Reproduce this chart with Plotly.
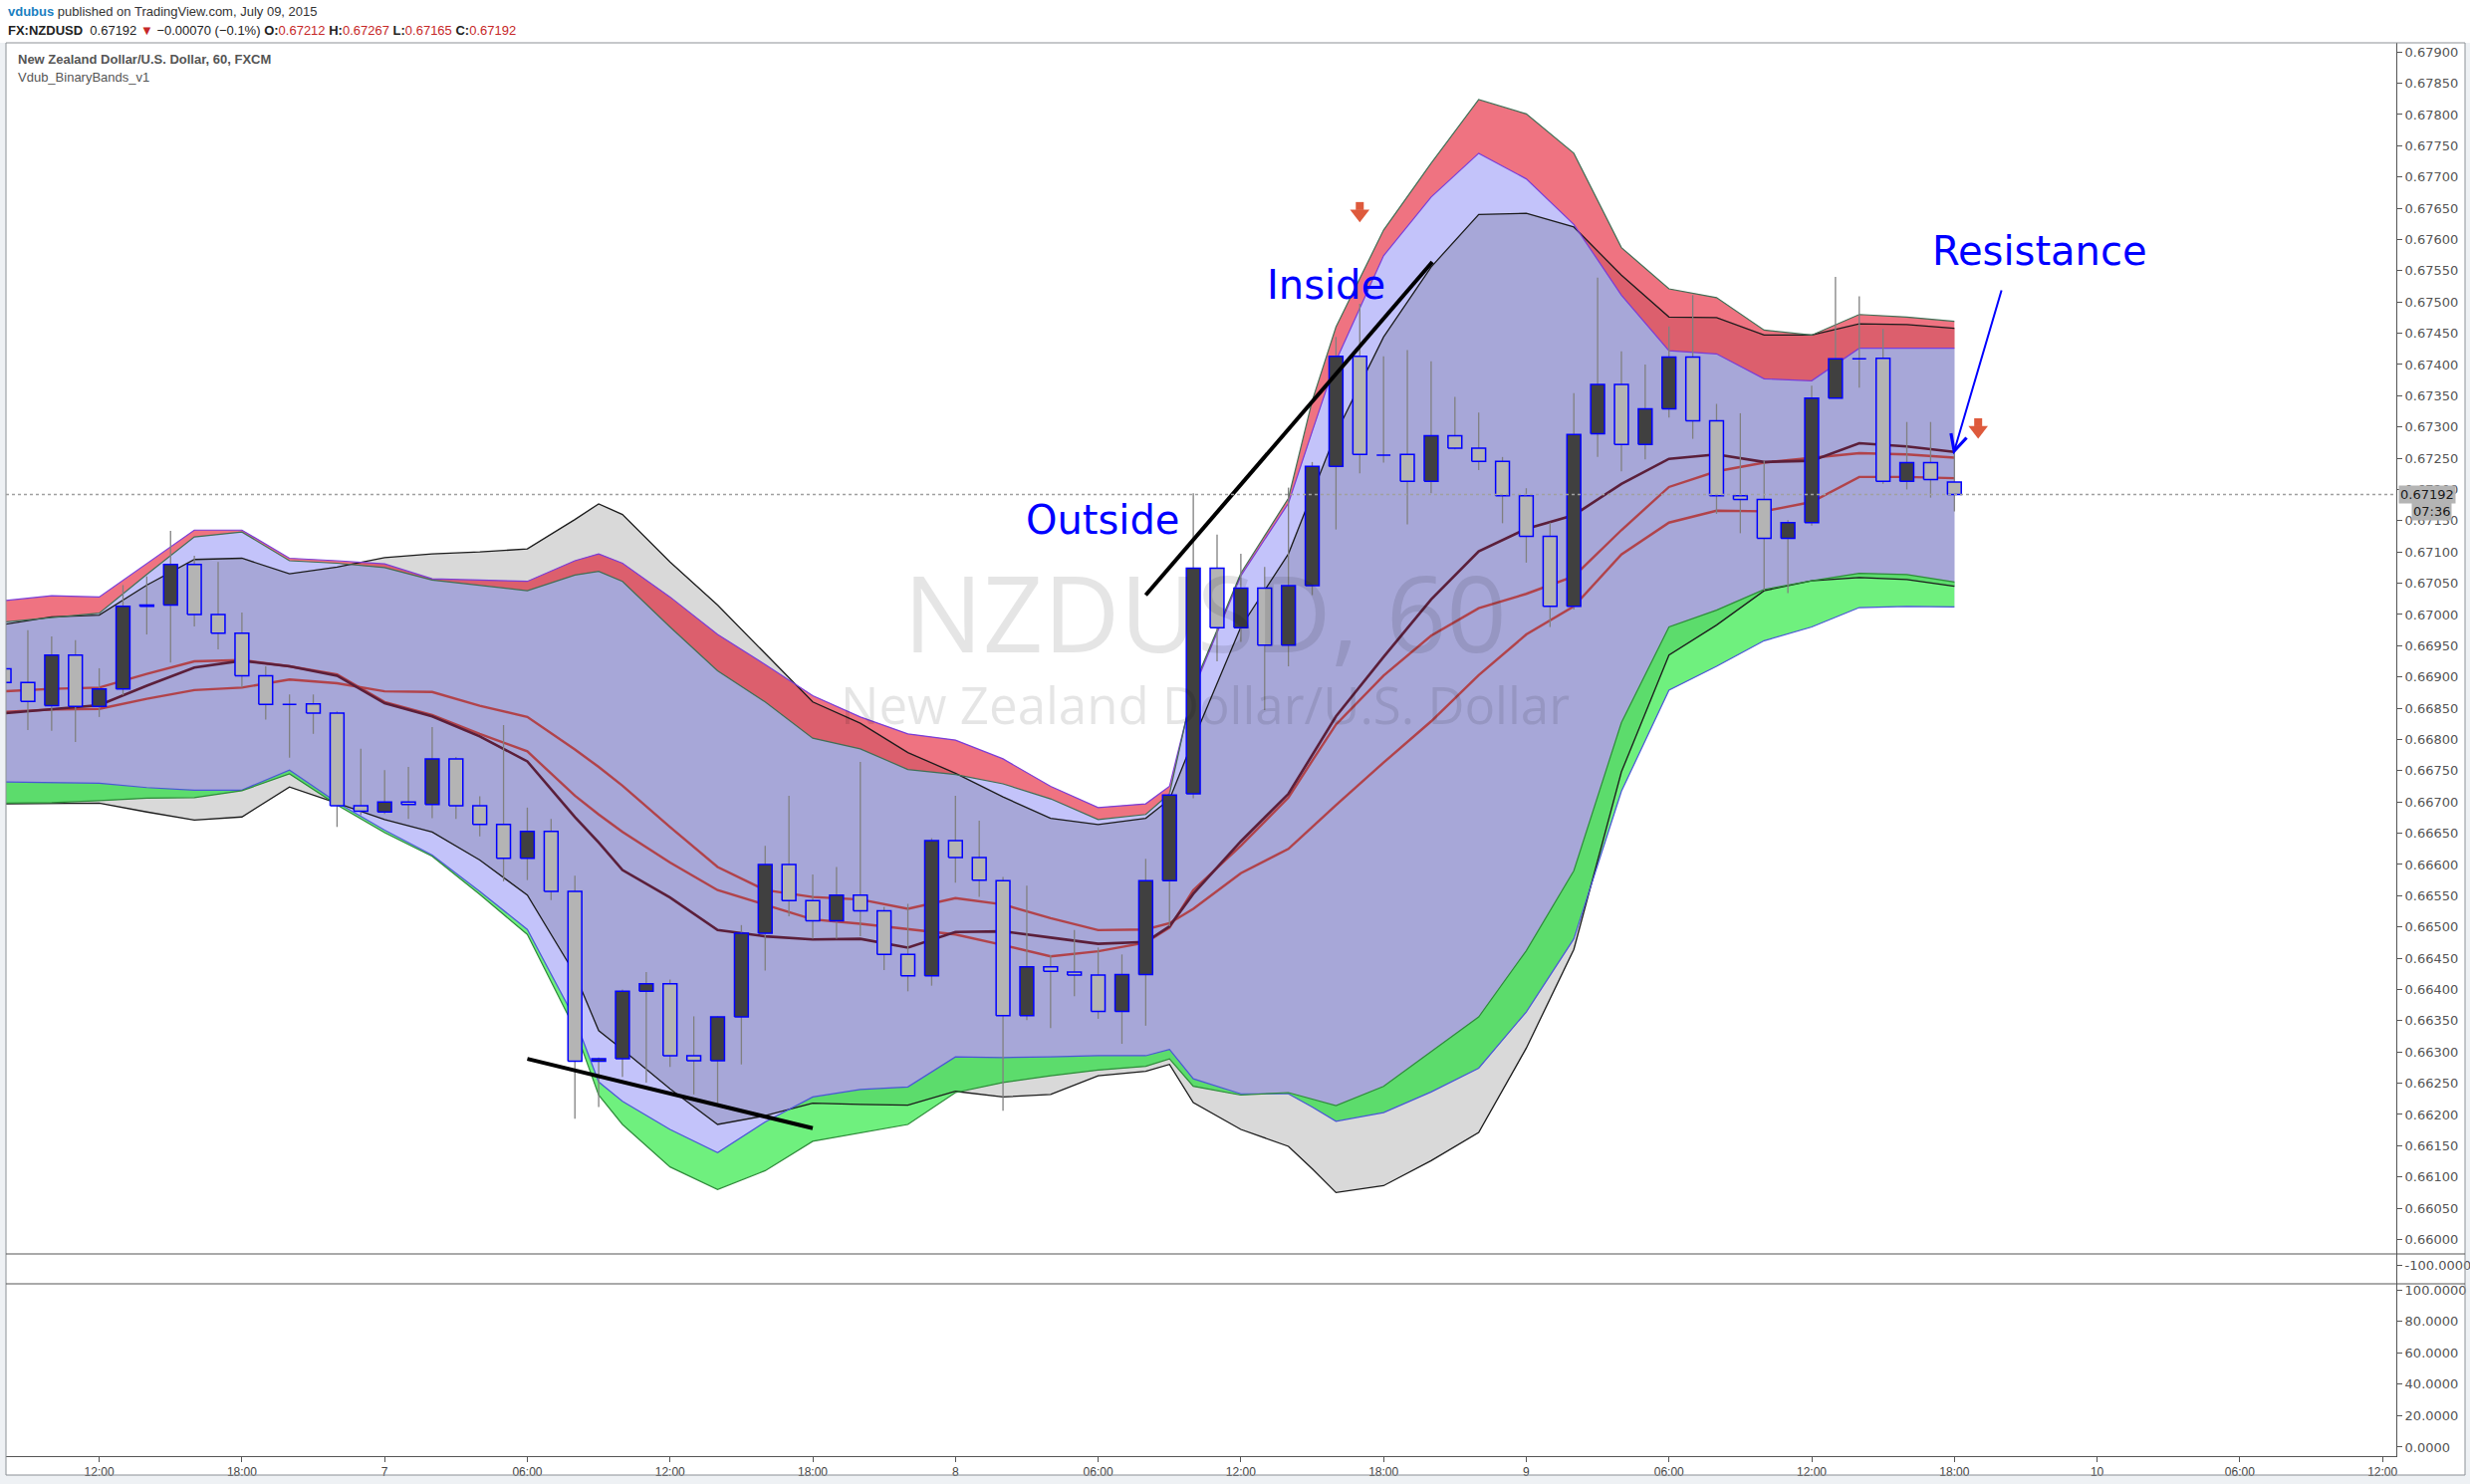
import numpy as np
import plotly.graph_objects as go

# ---------------- data (t = hours since 6 July 00:00, 60-min bars) ----------------
T_CANDLE = list(range(8, 91))
OPEN = [0.66913, 0.66891, 0.66854, 0.66935, 0.66853, 0.66881, 0.67013, 0.67015, 0.67080, 0.67000,
        0.66970, 0.66902, 0.66857, 0.66857, 0.66842, 0.66694, 0.66684, 0.66700, 0.66696, 0.66769,
        0.66694, 0.66664, 0.66610, 0.66653, 0.66557, 0.66285, 0.66289, 0.66397, 0.66409, 0.66294,
        0.66286, 0.66356, 0.66490, 0.66600, 0.66542, 0.66510, 0.66551, 0.66526, 0.66456, 0.66422,
        0.66638, 0.66611, 0.66574, 0.66358, 0.66436, 0.66428, 0.66423, 0.66365, 0.66424, 0.66574,
        0.66713, 0.67074, 0.66979, 0.67042, 0.66951, 0.67046, 0.67237, 0.67413, 0.67256, 0.67256,
        0.67213, 0.67286, 0.67266, 0.67245, 0.67190, 0.67125, 0.67013, 0.67289, 0.67368, 0.67272,
        0.67329, 0.67412, 0.67310, 0.67190, 0.67184, 0.67122, 0.67147, 0.67346, 0.67409, 0.67410,
        0.67213, 0.67243, 0.67212]
HIGH = [0.66930, 0.66975, 0.66965, 0.66959, 0.66914, 0.67047, 0.67061, 0.67134, 0.67094, 0.67084,
        0.67003, 0.66917, 0.66872, 0.66872, 0.66845, 0.66785, 0.66751, 0.66756, 0.66820, 0.66772,
        0.66709, 0.66823, 0.66691, 0.66673, 0.66582, 0.66291, 0.66400, 0.66428, 0.66416, 0.66357,
        0.66357, 0.66503, 0.66630, 0.66710, 0.66584, 0.66596, 0.66764, 0.66532, 0.66537, 0.66642,
        0.66710, 0.66670, 0.66580, 0.66566, 0.66455, 0.66495, 0.66467, 0.66456, 0.66609, 0.66716,
        0.67194, 0.67128, 0.67097, 0.67076, 0.67203, 0.67244, 0.67444, 0.67497, 0.67413, 0.67423,
        0.67405, 0.67348, 0.67323, 0.67252, 0.67202, 0.67147, 0.67354, 0.67539, 0.67421, 0.67400,
        0.67461, 0.67511, 0.67337, 0.67322, 0.67246, 0.67151, 0.67366, 0.67540, 0.67509, 0.67457,
        0.67308, 0.67308, 0.67267]
LOW = [0.66874, 0.66815, 0.66814, 0.66796, 0.66836, 0.66871, 0.66968, 0.66923, 0.66981, 0.66944,
       0.66883, 0.66832, 0.66771, 0.66809, 0.66660, 0.66679, 0.66681, 0.66673, 0.66674, 0.66673,
       0.66645, 0.66573, 0.66575, 0.66543, 0.66193, 0.66212, 0.66260, 0.66251, 0.66276, 0.66232,
       0.66218, 0.66280, 0.66430, 0.66517, 0.66481, 0.66481, 0.66485, 0.66431, 0.66397, 0.66406,
       0.66571, 0.66548, 0.66206, 0.66351, 0.66338, 0.66389, 0.66353, 0.66313, 0.66342, 0.66501,
       0.66706, 0.66925, 0.66956, 0.66847, 0.66917, 0.67031, 0.67136, 0.67226, 0.67243, 0.67144,
       0.67194, 0.67264, 0.67231, 0.67146, 0.67083, 0.66980, 0.67008, 0.67252, 0.67229, 0.67248,
       0.67315, 0.67281, 0.67161, 0.67130, 0.67038, 0.67034, 0.67142, 0.67346, 0.67363, 0.67209,
       0.67200, 0.67187, 0.67165]
CLOSE = [0.66891, 0.66861, 0.66935, 0.66853, 0.66881, 0.67013, 0.67015, 0.67080, 0.67000, 0.66970,
         0.66902, 0.66856, 0.66856, 0.66842, 0.66694, 0.66685, 0.66700, 0.66696, 0.66769, 0.66694,
         0.66664, 0.66610, 0.66653, 0.66557, 0.66285, 0.66289, 0.66397, 0.66409, 0.66294, 0.66286,
         0.66356, 0.66490, 0.66600, 0.66542, 0.66510, 0.66551, 0.66526, 0.66456, 0.66422, 0.66638,
         0.66611, 0.66575, 0.66358, 0.66436, 0.66429, 0.66423, 0.66365, 0.66424, 0.66574, 0.66711,
         0.67074, 0.66979, 0.67042, 0.66951, 0.67046, 0.67237, 0.67413, 0.67256, 0.67255, 0.67213,
         0.67286, 0.67266, 0.67245, 0.67190, 0.67125, 0.67013, 0.67288, 0.67368, 0.67272, 0.67329,
         0.67412, 0.67310, 0.67190, 0.67184, 0.67122, 0.67147, 0.67346, 0.67409, 0.67410, 0.67213,
         0.67243, 0.67216, 0.67192]

T_BAND = [8, 10, 12, 14, 16, 18, 20, 22, 24, 26, 28, 30, 32, 33, 34, 36, 38, 40, 42, 44, 46, 48, 50,
          52, 54, 56, 57, 58, 60, 62, 63, 64, 66, 68, 70, 72, 74, 76, 78, 80, 82, 84, 86, 88, 90]
BB_UPPER = [0.66984, 0.66996, 0.66999, 0.67047, 0.67088, 0.67090, 0.67065, 0.67076, 0.67091, 0.67097,
            0.67100, 0.67105, 0.67152, 0.67177, 0.67160, 0.67084, 0.67015, 0.66937, 0.66860, 0.66826,
            0.66779, 0.66746, 0.66708, 0.66674, 0.66664, 0.66674, 0.66704, 0.66799, 0.66980, 0.67097,
            0.67194, 0.67290, 0.67444, 0.67556, 0.67640, 0.67642, 0.67620, 0.67543, 0.67476, 0.67475,
            0.67447, 0.67447, 0.67465, 0.67464, 0.67458]
BAND_UP_A = [0.67022, 0.67030, 0.67028, 0.67081, 0.67135, 0.67135, 0.67090, 0.67086, 0.67081, 0.67057,
             0.67055, 0.67053, 0.67086, 0.67097, 0.67082, 0.67028, 0.66968, 0.66920, 0.66870, 0.66836,
             0.66809, 0.66799, 0.66769, 0.66725, 0.66691, 0.66697, 0.66725, 0.66879, 0.67062, 0.67178,
             0.67293, 0.67406, 0.67574, 0.67668, 0.67738, 0.67697, 0.67624, 0.67511, 0.67422, 0.67417,
             0.67377, 0.67374, 0.67426, 0.67426, 0.67426]
BAND_UP_B = [0.66988, 0.66995, 0.67002, 0.67064, 0.67124, 0.67132, 0.67086, 0.67082, 0.67075, 0.67055,
             0.67047, 0.67038, 0.67063, 0.67069, 0.67053, 0.66980, 0.66910, 0.66860, 0.66802, 0.66785,
             0.66752, 0.66744, 0.66729, 0.66705, 0.66672, 0.66680, 0.66713, 0.66884, 0.67066, 0.67186,
             0.67342, 0.67460, 0.67615, 0.67722, 0.67824, 0.67801, 0.67738, 0.67587, 0.67521, 0.67507,
             0.67455, 0.67447, 0.67480, 0.67476, 0.67469]
BB_LOWER = [0.66697, 0.66698, 0.66698, 0.66684, 0.66671, 0.66676, 0.66724, 0.66698, 0.66672, 0.66652,
            0.66607, 0.66551, 0.66425, 0.66334, 0.66304, 0.66241, 0.66184, 0.66198, 0.66218, 0.66216,
            0.66215, 0.66237, 0.66228, 0.66232, 0.66262, 0.66269, 0.66280, 0.66219, 0.66176, 0.66149,
            0.66113, 0.66075, 0.66086, 0.66126, 0.66171, 0.66306, 0.66464, 0.66748, 0.66935, 0.66983,
            0.67038, 0.67054, 0.67059, 0.67056, 0.67045]
BAND_LO_A = [0.66732, 0.66731, 0.66730, 0.66723, 0.66719, 0.66719, 0.66751, 0.66699, 0.66655, 0.66615,
             0.66557, 0.66496, 0.66353, 0.66252, 0.66221, 0.66176, 0.66139, 0.66188, 0.66228, 0.66240,
             0.66244, 0.66292, 0.66291, 0.66292, 0.66294, 0.66294, 0.66304, 0.66257, 0.66233, 0.66233,
             0.66212, 0.66189, 0.66203, 0.66236, 0.66274, 0.66364, 0.66481, 0.66717, 0.66879, 0.66917,
             0.66958, 0.66980, 0.67011, 0.67013, 0.67012]
BAND_LO_B = [0.66698, 0.66699, 0.66702, 0.66706, 0.66707, 0.66718, 0.66745, 0.66695, 0.66651, 0.66613,
             0.66552, 0.66488, 0.66337, 0.66231, 0.66184, 0.66116, 0.66080, 0.66110, 0.66157, 0.66171,
             0.66184, 0.66235, 0.66251, 0.66262, 0.66271, 0.66277, 0.66289, 0.66245, 0.66231, 0.66235,
             0.66224, 0.66214, 0.66245, 0.66301, 0.66356, 0.66462, 0.66590, 0.66827, 0.66980, 0.67007,
             0.67040, 0.67054, 0.67066, 0.67064, 0.67052]
MA_DARK = [0.66842, 0.66848, 0.66855, 0.66886, 0.66915, 0.66926, 0.66917, 0.66902, 0.66858, 0.66837,
           0.66805, 0.66765, 0.66676, 0.66635, 0.66591, 0.66547, 0.66495, 0.66485, 0.66480, 0.66481,
           0.66467, 0.66492, 0.66493, 0.66483, 0.66473, 0.66476, 0.66501, 0.66553, 0.66637, 0.66713,
           0.66774, 0.66837, 0.66932, 0.67024, 0.67101, 0.67137, 0.67159, 0.67209, 0.67249, 0.67256,
           0.67244, 0.67246, 0.67274, 0.67269, 0.67260]
MA_FAST = [0.66877, 0.66881, 0.66883, 0.66905, 0.66925, 0.66927, 0.66917, 0.66904, 0.66860, 0.66839,
           0.66809, 0.66781, 0.66710, 0.66680, 0.66652, 0.66603, 0.66559, 0.66536, 0.66512, 0.66505,
           0.66496, 0.66488, 0.66471, 0.66453, 0.66461, 0.66475, 0.66499, 0.66559, 0.66630, 0.66707,
           0.66766, 0.66824, 0.66902, 0.66966, 0.67010, 0.67033, 0.67061, 0.67135, 0.67204, 0.67229,
           0.67243, 0.67251, 0.67258, 0.67256, 0.67251]
MA_SLOW = [0.66844, 0.66848, 0.66849, 0.66865, 0.66879, 0.66883, 0.66896, 0.66890, 0.66877, 0.66876,
           0.66854, 0.66836, 0.66784, 0.66756, 0.66726, 0.66660, 0.66596, 0.66559, 0.66548, 0.66544,
           0.66529, 0.66546, 0.66536, 0.66514, 0.66495, 0.66496, 0.66506, 0.66529, 0.66586, 0.66625,
           0.66660, 0.66695, 0.66763, 0.66829, 0.66903, 0.66968, 0.67013, 0.67096, 0.67147, 0.67166,
           0.67165, 0.67180, 0.67220, 0.67220, 0.67218]

TIME_TICKS = [12, 18, 24, 30, 36, 42, 48, 54, 60, 66, 72, 78, 84, 90, 96, 102, 108]
TIME_LABELS = ["12:00", "18:00", "7", "06:00", "12:00", "18:00", "8", "06:00", "12:00", "18:00",
               "9", "06:00", "12:00", "18:00", "10", "06:00", "12:00"]
PRICE_LABELS = ["0.66000", "0.66050", "0.66100", "0.66150", "0.66200", "0.66250", "0.66300", "0.66350",
                "0.66400", "0.66450", "0.66500", "0.66550", "0.66600", "0.66650", "0.66700", "0.66750",
                "0.66800", "0.66850", "0.66900", "0.66950", "0.67000", "0.67050", "0.67100", "0.67150",
                "0.67200", "0.67250", "0.67300", "0.67350", "0.67400", "0.67450", "0.67500", "0.67550",
                "0.67600", "0.67650", "0.67700", "0.67750", "0.67800", "0.67850", "0.67900"]
OSC_LABELS = ["0.0000", "20.0000", "40.0000", "60.0000", "80.0000", "100.0000"]
OSC_TICKS = [0, 20, 40, 60, 80, 100]

LAST_PRICE = 0.67192
SIGNAL_T = [65, 91]
SIGNAL_P = [0.67644, 0.67298]
TREND1_T = [56.0, 68.05]
TREND1_P = [0.67031, 0.67564]
TREND2_T = [30.0, 42.0]
TREND2_P = [0.66289, 0.66178]
NOTES = [("Outside", 54.19, 0.67152), ("Inside", 63.6, 0.67527), ("Resistance", 93.59, 0.67582)]
ARROW_FROM = (92.0, 0.67521)
ARROW_TO = (89.95, 0.67256)

# ---------------- geometry helpers ----------------
W, H = 2480, 1490
PL, PR, PT, PB = 6, 2406, 43, 1462          # plot area in pixels
YMIN, YMAX = 0.659768, 0.679147
XMIN, XMAX = 8.08, 108.58
BODY_W = 0.58


def px_to_paper_y(py):
    return (PB - py) / (PB - PT)


def px_to_paper_x(px):
    return (px - PL) / (PR - PL)


def cross_grid(t, arrays):
    t = np.asarray(t, float)
    arrs = [np.asarray(a, float) for a in arrays]
    extra = []
    for i in range(len(t) - 1):
        for a in range(len(arrs)):
            for b in range(a + 1, len(arrs)):
                d0 = arrs[a][i] - arrs[b][i]
                d1 = arrs[a][i + 1] - arrs[b][i + 1]
                if d0 * d1 < 0:
                    s = d0 / (d0 - d1)
                    extra.append(t[i] + s * (t[i + 1] - t[i]))
    g = np.unique(np.concatenate([t, np.array(extra)]))
    return g, [np.interp(g, t, a) for a in arrs]


g, (bbu, ua, ub, bbl, la, lb) = cross_grid(T_BAND, [BB_UPPER, BAND_UP_A, BAND_UP_B, BB_LOWER, BAND_LO_A, BAND_LO_B])

fig = go.Figure()


def poly(top, bot, color):
    fig.add_trace(go.Scatter(x=np.concatenate([g, g[::-1]]), y=np.concatenate([top, bot[::-1]]),
                             fill="toself", fillcolor=color, line=dict(width=0), mode="lines",
                             hoverinfo="skip", showlegend=False))


red_top, red_bot = np.maximum(ua, ub), np.minimum(ua, ub)
grn_top, grn_bot = np.maximum(la, lb), np.minimum(la, lb)

poly(bbu, bbl, "#d9d9d9")                                    # BB fill
poly(ua, la, "#c3c3fa")                                      # inner channel
pt = np.minimum(ua, bbu); pb = np.maximum(la, bbl); poly(np.maximum(pt, pb), pb, "#a7a7d8")
poly(red_top, red_bot, "#ef7381")
dt = np.minimum(red_top, bbu); db = np.maximum(red_bot, bbl); poly(np.maximum(dt, db), db, "#dc5f6d")
poly(grn_top, grn_bot, "#6ff07e")
gt = np.minimum(grn_top, bbu); gb = np.maximum(grn_bot, bbl); poly(np.maximum(gt, gb), gb, "#5cdc6c")


def line(y, color, width, opacity=1.0):
    fig.add_trace(go.Scatter(x=T_BAND, y=y, mode="lines", line=dict(color=color, width=width),
                             opacity=opacity, hoverinfo="skip", showlegend=False))


line(BB_UPPER, "#1b1b1b", 1.3)
line(BB_LOWER, "#1b1b1b", 1.3)
line(BAND_UP_A, "#7a3cd8", 1.2)
line(BAND_UP_B, "#3f6f55", 1.2)
line(BAND_LO_A, "#4a55d8", 1.2)
line(BAND_LO_B, "#2e8b3a", 1.2)
line(MA_SLOW, "#b3393b", 2.4, 0.9)
line(MA_FAST, "#b3393b", 2.4, 0.9)
line(MA_DARK, "#5b1f3a", 2.6)

# wicks
wx, wy = [], []
for t, h, l in zip(T_CANDLE, HIGH, LOW):
    wx += [t, t, None]
    wy += [l, h, None]
fig.add_trace(go.Scatter(x=wx, y=wy, mode="lines", line=dict(color="#808080", width=1.3),
                         hoverinfo="skip", showlegend=False))


# bodies (drawn as scatter polygons so they stay above the band fills)
def bodies(up, fillcolor):
    xs, ys = [], []
    hw = BODY_W / 2
    for t, o, c in zip(T_CANDLE, OPEN, CLOSE):
        if (c >= o) != up:
            continue
        lo, hi = min(o, c), max(o, c)
        xs += [t - hw, t + hw, t + hw, t - hw, t - hw, None]
        ys += [lo, lo, hi, hi, lo, None]
    fig.add_trace(go.Scatter(x=xs, y=ys, mode="lines", fill="toself", fillcolor=fillcolor,
                             line=dict(color="#0000ff", width=1.5), hoverinfo="skip", showlegend=False))


bodies(True, "#404040")
bodies(False, "#b4b4b4")

# trend lines drawn by the author
for tx, ty in [(TREND1_T, TREND1_P), (TREND2_T, TREND2_P)]:
    fig.add_trace(go.Scatter(x=tx, y=ty, mode="lines", line=dict(color="#000000", width=4),
                             hoverinfo="skip", showlegend=False))

# signal arrows
unit = (YMAX - YMIN) / (1259 - PT)
fig.add_trace(go.Scatter(x=SIGNAL_T, y=[p - 2 * unit for p in SIGNAL_P], mode="markers",
                         marker=dict(symbol="triangle-down", size=17, color="#de5a3c"),
                         hoverinfo="skip", showlegend=False))
fig.add_trace(go.Scatter(x=SIGNAL_T, y=[p + 6 * unit for p in SIGNAL_P], mode="markers",
                         marker=dict(symbol="square", size=8, color="#de5a3c"),
                         hoverinfo="skip", showlegend=False))

# empty indicator panes (so that their axes are drawn)
fig.add_trace(go.Scatter(x=[], y=[], xaxis="x", yaxis="y2", mode="lines", showlegend=False, hoverinfo="skip"))
fig.add_trace(go.Scatter(x=[], y=[], xaxis="x", yaxis="y3", mode="lines", showlegend=False, hoverinfo="skip"))

main_bot = px_to_paper_y(1259)
mid_bot = px_to_paper_y(1289)
right_edge = px_to_paper_x(2475)

tickfont = dict(family="DejaVu Sans, Verdana, sans-serif", size=13, color="#555555")
common_y = dict(side="right", anchor="x", ticks="outside", ticklen=5, tickcolor="#555", showline=True,
                linecolor="#555", showgrid=False, zeroline=False, tickfont=tickfont, automargin=False)
fig.update_layout(
    width=W, height=H,
    margin=dict(l=PL, r=W - PR, t=PT, b=H - PB, pad=0, autoexpand=False),
    paper_bgcolor="#eef1f4", plot_bgcolor="rgba(0,0,0,0)",
    showlegend=False,
    xaxis=dict(range=[XMIN, XMAX], tickvals=TIME_TICKS, ticktext=TIME_LABELS, anchor="y3",
               ticks="outside", ticklen=5, tickcolor="#555", showline=True, linecolor="#555",
               showgrid=False, zeroline=False, automargin=False,
               tickfont=dict(family="Liberation Sans Narrow, Arial Narrow, Liberation Sans, sans-serif",
                             size=12, color="#444")),
    yaxis=dict(domain=[main_bot, 1.0], range=[YMIN, YMAX],
               tickvals=[float(s) for s in PRICE_LABELS], ticktext=PRICE_LABELS, **common_y),
    yaxis2=dict(domain=[mid_bot, main_bot], range=[-119, -89],
                tickvals=[-100], ticktext=["-100.0000"], **common_y),
    yaxis3=dict(domain=[0, mid_bot], range=[-5.7, 103.8],
                tickvals=OSC_TICKS, ticktext=OSC_LABELS, **common_y),
)

shapes = [
    dict(type="rect", xref="paper", yref="paper", x0=0, x1=right_edge, y0=px_to_paper_y(1481), y1=1.0,
         fillcolor="#ffffff", line=dict(width=0), layer="below"),
    dict(type="rect", xref="paper", yref="paper", x0=px_to_paper_x(0), x1=px_to_paper_x(W),
         y0=1.0, y1=px_to_paper_y(0), fillcolor="#ffffff", line=dict(width=0), layer="below"),
    dict(type="rect", xref="paper", yref="paper", x0=0, x1=right_edge, y0=px_to_paper_y(1481), y1=1.0,
         line=dict(color="#8c9196", width=1), fillcolor="rgba(0,0,0,0)"),
    dict(type="line", xref="paper", yref="paper", x0=0, x1=right_edge, y0=main_bot, y1=main_bot,
         line=dict(color="#555", width=1)),
    dict(type="line", xref="paper", yref="paper", x0=0, x1=right_edge, y0=mid_bot, y1=mid_bot,
         line=dict(color="#555", width=1)),
    dict(type="line", xref="paper", yref="y", x0=0, x1=1, y0=LAST_PRICE, y1=LAST_PRICE,
         line=dict(color="#a0a0a0", width=1.5, dash="dot")),
]
fig.update_layout(shapes=shapes)

ann = []
hdr_font = "Liberation Sans Narrow, Arial Narrow, Liberation Sans, sans-serif"
ann.append(dict(xref="paper", yref="paper", x=px_to_paper_x(6), y=px_to_paper_y(11), xanchor="left",
                yanchor="middle", showarrow=False,
                text="<b><span style='color:#1a7fc1'>vdubus</span></b> published on TradingView.com, July 09, 2015",
                font=dict(family=hdr_font, size=13, color="#333")))
ann.append(dict(xref="paper", yref="paper", x=px_to_paper_x(6), y=px_to_paper_y(30), xanchor="left",
                yanchor="middle", showarrow=False,
                text=("<b>FX:NZDUSD</b>  0.67192 <span style='color:#c62828'>▼</span> −0.00070 (−0.1%) "
                      "<b>O:</b><span style='color:#c62828'>0.67212</span> "
                      "<b>H:</b><span style='color:#c62828'>0.67267</span> "
                      "<b>L:</b><span style='color:#c62828'>0.67165</span> "
                      "<b>C:</b><span style='color:#c62828'>0.67192</span>"),
                font=dict(family=hdr_font, size=13, color="#222")))
ann.append(dict(xref="paper", yref="paper", x=px_to_paper_x(16), y=px_to_paper_y(60), xanchor="left",
                yanchor="middle", showarrow=False, text="<b>New Zealand Dollar/U.S. Dollar, 60, FXCM</b>",
                font=dict(family=hdr_font, size=13, color="#555")))
ann.append(dict(xref="paper", yref="paper", x=px_to_paper_x(16), y=px_to_paper_y(77), xanchor="left",
                yanchor="middle", showarrow=False, text="Vdub_BinaryBands_v1",
                font=dict(family=hdr_font, size=13, color="#555")))
# watermark
ann.append(dict(xref="paper", yref="paper", x=px_to_paper_x(1210), y=px_to_paper_y(614), showarrow=False,
                text="NZDUSD, 60", font=dict(family="Open Sans, DejaVu Sans, sans-serif", size=106,
                                             color="rgba(0,0,0,0.10)")))
ann.append(dict(xref="paper", yref="paper", x=px_to_paper_x(1210), y=px_to_paper_y(707), showarrow=False,
                text="New Zealand Dollar/U.S. Dollar",
                font=dict(family="Open Sans, DejaVu Sans, sans-serif", size=51, color="rgba(0,0,0,0.10)")))
# author notes
for txt, tx, ty in NOTES:
    ann.append(dict(x=tx, y=ty, xref="x", yref="y", showarrow=False, text=txt,
                    font=dict(family="DejaVu Sans, Verdana, sans-serif", size=40, color="#0000ff")))
ann.append(dict(x=ARROW_TO[0], y=ARROW_TO[1], ax=ARROW_FROM[0], ay=ARROW_FROM[1], xref="x", yref="y",
                axref="x", ayref="y", text="", showarrow=True, arrowhead=5, arrowsize=1.6,
                arrowwidth=2, arrowcolor="#0000ff", standoff=0))
# last price tags
ann.append(dict(xref="paper", yref="y", x=1.0008, y=LAST_PRICE, xanchor="left", yanchor="middle",
                showarrow=False, text="0.67192", bgcolor="#b4b4b4", borderpad=1,
                font=dict(family="DejaVu Sans, Verdana, sans-serif", size=13, color="#1a1a1a")))
ann.append(dict(xref="paper", yref="y", x=px_to_paper_x(2462), y=LAST_PRICE, yshift=-17, xanchor="right",
                yanchor="middle", showarrow=False, text="07:36", bgcolor="#b4b4b4", borderpad=1,
                font=dict(family="DejaVu Sans, Verdana, sans-serif", size=13, color="#1a1a1a")))
fig.update_layout(annotations=ann)

fig.write_html("out.html")
